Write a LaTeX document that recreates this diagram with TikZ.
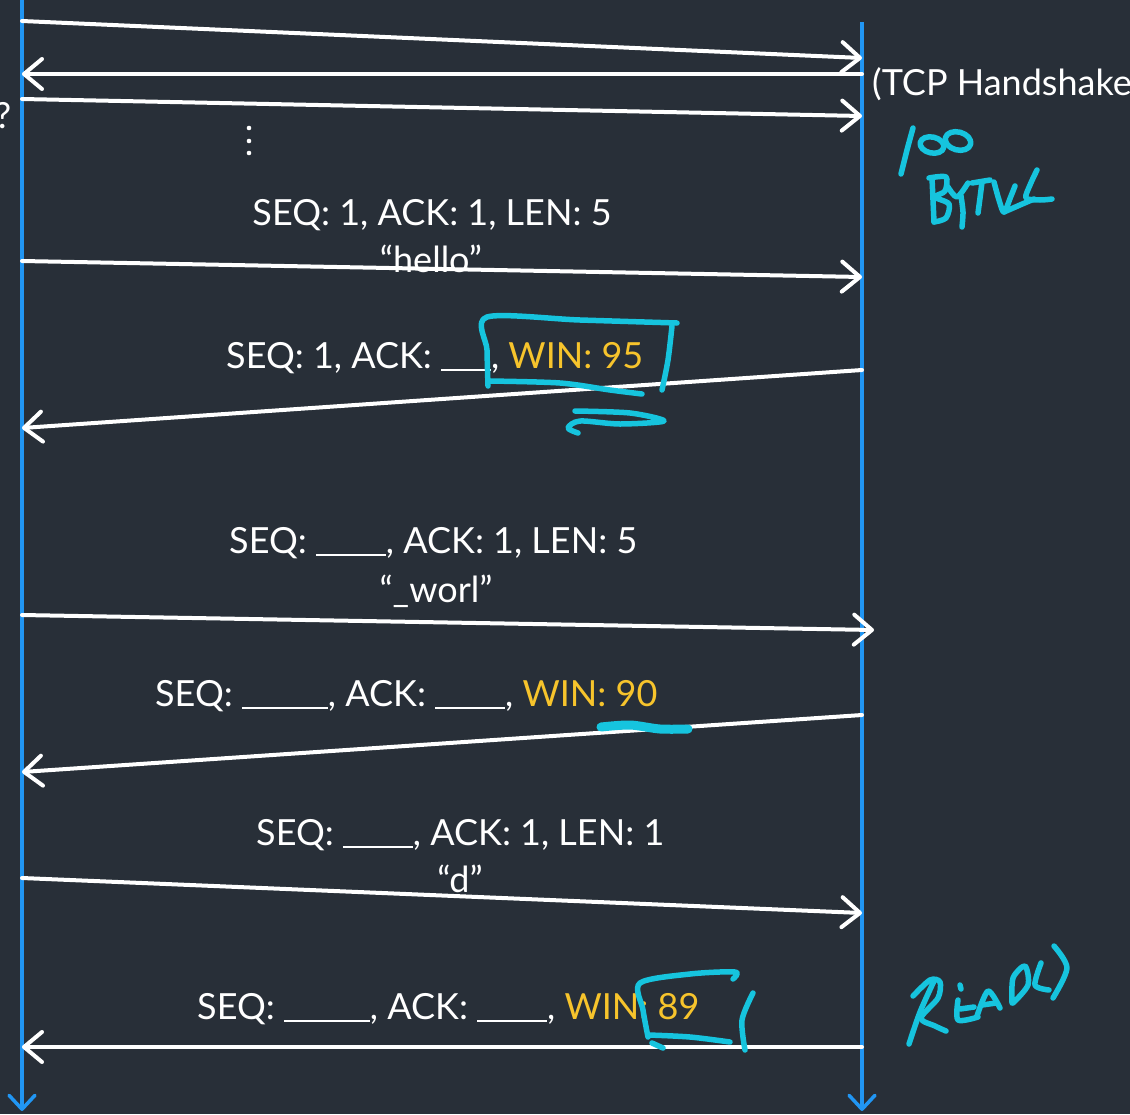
\documentclass[tikz,border=0pt]{standalone}
\usepackage{fontspec}
\setmainfont{Lato}
\usetikzlibrary{arrows.meta}
\definecolor{bg}{RGB}{40,47,56}
\definecolor{life}{RGB}{33,150,243}
\definecolor{win}{RGB}{247,196,44}
\definecolor{ink}{RGB}{22,196,222}
% a fill-in blank drawn as one continuous rule
\newcommand{\fillblank}[1]{\rule[-2.5pt]{#1pt}{1.8pt}}
\begin{document}
\begin{tikzpicture}[x=1pt,y=-1pt,
  msg/.style={draw=white,line width=4pt,line cap=round,
    -{Straight Barb[length=18pt,width=30pt,round]}},
  lifeline/.style={draw=life,line width=3.5pt,
    -{Straight Barb[length=14pt,width=26pt,round]}},
  lbl/.style={text=white,font=\fontsize{36}{42}\selectfont,inner sep=0pt},
  pen/.style={draw=ink,line width=5.5pt,line cap=round,line join=round}]
\fill[bg] (0,0) rectangle (1130,1114);
\useasboundingbox (0,0) rectangle (1130,1114);
\clip (0,0) rectangle (1130,1114);

% lifelines
\coordinate (Ltop) at (22,0);
\coordinate (Lbot) at (22,1111);
\coordinate (Rtop) at (862,22);
\coordinate (Rbot) at (862,1111);
\draw[lifeline] (Ltop) -- (Lbot);
\draw[lifeline] (Rtop) -- (Rbot);

% message end points
\coordinate (a1) at (22,21);   \coordinate (b1) at (862,58);
\coordinate (b2) at (862,74);  \coordinate (a2) at (22,74);
\coordinate (a3) at (22,99);   \coordinate (b3) at (862,116);
\coordinate (a4) at (22,261);  \coordinate (b4) at (862,277);
\coordinate (b5) at (862,370); \coordinate (a5) at (22,428);
\coordinate (a6) at (22,615);  \coordinate (b6) at (874,630);
\coordinate (b7) at (862,715); \coordinate (a7) at (22,772);
\coordinate (a8) at (22,878);  \coordinate (b8) at (862,913);
\coordinate (b9) at (862,1047);\coordinate (a9) at (22,1047);

% handshake
\draw[msg] (a1) -- (b1);
\draw[msg] (b2) -- (a2);
\draw[msg] (a3) -- (b3);
\node[lbl,anchor=base west] (hs) at (872,95) {(TCP Handshake};
\node[lbl,anchor=base west] (q) at (-5,128) {?};
\foreach \y in {128,141,153} \fill[white] (249,\y) circle (2.3pt);

% data segments and acks
\node[lbl,anchor=base] (t1) at (432,225) {SEQ: 1, ACK: 1, LEN: 5};
\node[lbl,anchor=base] (t1b) at (431,272) {“hello”};
\draw[msg] (a4) -- (b4);

\node[lbl,anchor=base west] (t2) at (226,368) {SEQ: 1, ACK: \fillblank{50}, \textcolor{win}{WIN: 95}};
\draw[msg] (b5) -- (a5);

\node[lbl,anchor=base west] (t3) at (229,553) {SEQ: \fillblank{70}, ACK: 1, LEN: 5};
\node[lbl,anchor=base] (t3b) at (436,602) {“\_worl”};
\draw[msg] (a6) -- (b6);

\node[lbl,anchor=base west] (t4) at (155,706) {SEQ: \fillblank{86}, ACK: \fillblank{70}, \textcolor{win}{WIN: 90}};
\draw[msg] (b7) -- (a7);

\node[lbl,anchor=base west] (t5) at (256,845) {SEQ: \fillblank{70}, ACK: 1, LEN: 1};
\node[lbl,anchor=base] (t5b) at (460,892) {“d”};
\draw[msg] (a8) -- (b8);

\node[lbl,anchor=base west] (t6) at (197,1019) {SEQ: \fillblank{86}, ACK: \fillblank{70}, \textcolor{win}{WIN: 89}};
\draw[msg] (b9) -- (a9);

% hand-written notes
% "100 BYTES"
\draw[pen] plot[smooth] coordinates {(913,128) (907,150) (901,174)};
\draw[pen,rotate around={-12:(932,145)}] (932,145) ellipse [x radius=12,y radius=8];
\draw[pen,rotate around={-15:(958,141)}] (958,141) ellipse [x radius=13,y radius=9];
\draw[pen] (932,178) -- (934,222);
\draw[pen] plot[smooth] coordinates {(929,178) (946,177) (945,191) (935,197) (949,204) (946,218) (934,222)};
\draw[pen] plot[smooth] coordinates {(948,187) (957,197) (968,183)};
\draw[pen] plot[smooth] coordinates {(961,196) (963,212) (962,227)};
\draw[pen] (972,183) -- (990,180);
\draw[pen] plot[smooth] coordinates {(982,182) (980,198) (978,213)};
\draw[pen] plot[smooth] coordinates {(994,182) (999,200) (1004,212) (1011,196) (1015,186)};
\draw[pen] plot[smooth] coordinates {(1037,170) (1030,185) (1026,198) (1040,200) (1052,199)};
\draw[pen] plot[smooth] coordinates {(1004,212) (1020,205) (1034,199)};

% box round WIN: 95
\draw[pen] plot[smooth] coordinates {(488,386) (487,350) (487,317) (580,320) (677,323)};
\draw[pen] plot[smooth] coordinates {(672,326) (668,360) (662,390)};
\draw[pen] plot[smooth] coordinates {(489,381) (560,383) (610,390) (642,394)};
\draw[pen] plot[smooth] coordinates {(575,411) (630,413) (664,421) (620,424) (580,421) (568,428) (578,433)};

% smudge near WIN: 90
\draw[draw=ink,line width=9pt,line cap=round] plot[smooth] coordinates {(601,727) (630,725) (660,729) (688,729)};

% box round 89
\draw[pen] plot[smooth] coordinates {(648,1037) (643,1010) (640,983) (690,974) (735,972) (733,979)};
\draw[pen] plot[smooth] coordinates {(649,1035) (690,1037) (730,1042)};
\draw[pen] (652,1043) -- (663,1048);
\draw[pen] plot[smooth] coordinates {(753,993) (742,1020) (745,1050)};

% "READ()"
\draw[pen] plot[smooth] coordinates {(934,981) (920,1012) (909,1044)};
\draw[pen] plot[smooth] coordinates {(913,996) (930,980) (940,982) (938,998) (921,1018) (935,1026) (946,1031)};
\draw[pen] plot[smooth] coordinates {(958,1000) (958,1020) (978,1017)};
\draw[pen] (960,1009) -- (974,1007);
\draw[pen] (960,985) -- (961,989);
\draw[pen] plot[smooth] coordinates {(977,1016) (988,991) (1000,1008)};
\draw[pen] (982,1005) -- (996,1003);
\draw[pen] plot[smooth] coordinates {(1012,1003) (1013,978) (1025,966) (1028,985) (1013,1003)};
\draw[pen] plot[smooth] coordinates {(1041,963) (1035,985) (1049,990)};
\draw[pen] plot[smooth] coordinates {(1054,946) (1067,968) (1053,998)};
\end{tikzpicture}
\end{document}
